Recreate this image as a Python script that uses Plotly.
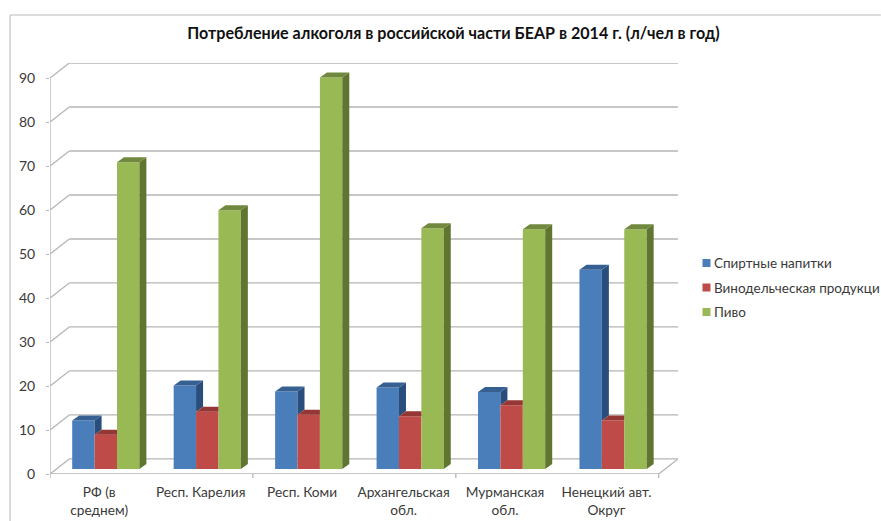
import plotly.graph_objects as go

categories = ["РФ (в<br>среднем)", "Респ. Карелия", "Респ. Коми", "Архангельская<br>обл.", "Мурманская<br>обл.", "Ненецкий авт.<br>Округ"]
series_names = ["Спиртные напитки", "Винодельческая продукци", "Пиво"]
spirits = [11, 19, 17.6, 18.5, 17.5, 45.3]
wine = [7.8, 13, 12.3, 12, 14.5, 11]
beer = [69.7, 58.8, 89, 54.7, 54.5, 54.5]
y_ticks = [0, 10, 20, 30, 40, 50, 60, 70, 80, 90]
title_text = "Потребление алкоголя в российской части БЕАР в 2014 г. (л/чел в год)"

front_colors = ["#4A7EBB", "#BE4B48", "#98B954"]
side_colors = ["#2A4E7C", "#772C2A", "#5F7530"]
top_colors = ["#376092", "#953735", "#71893F"]

FONT = "Lato, 'Noto Sans', sans-serif"
TEXT = "#3a3a3a"
GRID = "#b5b5b5"

W, H = 881, 521
L, R, T, B = 49.5, 203, 63, 47
wall_dx, wall_dy = 0.19, 3.42      # wall offset in axis units
bar_dx, bar_dy = 0.069, 1.14       # bar depth in axis units
group_shift = 0.05
bar_w = 0.2207
x0, x1 = -0.5, 5.5

fig = go.Figure()
all_series = [spirits, wine, beer]

# fronts
for k, vals in enumerate(all_series):
    fig.add_bar(x=[i + group_shift for i in range(len(vals))], y=vals, base=bar_dy,
                name=series_names[k], marker=dict(color=front_colors[k], line=dict(width=0)),
                showlegend=False)

# sides and tops, only where the next bar of the group does not hide them
for k, vals in enumerate(all_series):
    sx, sy, tx, ty = [], [], [], []
    for i, v in enumerate(vals):
        left = i + group_shift - 1.5 * bar_w + k * bar_w
        right = left + bar_w
        top = v + bar_dy
        low = (all_series[k + 1][i] if k < 2 else 0) + bar_dy
        if low < top:
            sx += [right, right + bar_dx, right + bar_dx, right, right, None]
            sy += [top, top + bar_dy, low + bar_dy, low, top, None]
            top_right = right + bar_dx
        else:
            top_right = right
        tx += [left, left + bar_dx, top_right, right, left, None]
        ty += [top, top + bar_dy, top + bar_dy, top, top, None]
    fig.add_scatter(x=sx, y=sy, mode="lines", fill="toself", fillcolor=side_colors[k],
                    line=dict(width=0), hoverinfo="skip", showlegend=False)
    fig.add_scatter(x=tx, y=ty, mode="lines", fill="toself", fillcolor=top_colors[k],
                    line=dict(width=0), hoverinfo="skip", showlegend=False)

shapes = []
def ln(xa, ya, xb, yb, xref="x", yref="y", color=GRID, width=1.3):
    shapes.append(dict(type="line", x0=xa, y0=ya, x1=xb, y1=yb, xref=xref, yref=yref,
                       layer="below", line=dict(color=color, width=width)))

for v in y_ticks:
    ln(x0, v, x0 + wall_dx, v + wall_dy)
    ln(x0 + wall_dx, v + wall_dy, x1 + wall_dx, v + wall_dy)
ln(x0, 0, x0, y_ticks[-1])
ln(x0, 0, x1, 0)
ln(x1, 0, x1 + wall_dx, wall_dy)

px = lambda p: (p - L) / (W - L - R)
py = lambda p: 1 - (p - T) / (H - T - B)

# category tick marks (every second boundary)
for b in [x0, x0 + 2, x0 + 4, x1]:
    shapes.append(dict(type="line", xref="x", yref="paper", x0=b, x1=b, y0=py(474), y1=py(478),
                       line=dict(color=GRID, width=1.3)))

# chart-area frame
ln(px(9.5), py(521), px(9.5), py(15), "paper", "paper", "#cfcfcf", 1.5)
ln(px(9.5), py(15), px(881), py(15), "paper", "paper", "#d0d0d0", 1.5)

# legend
annotations = []
for k, (name, ypx) in enumerate(zip(series_names, [263, 287.5, 312])):
    shapes.append(dict(type="rect", xref="paper", yref="paper", x0=px(702.5), x1=px(710.5),
                       y0=py(ypx + 4), y1=py(ypx - 4), fillcolor=front_colors[k],
                       line=dict(width=0)))
    annotations.append(dict(x=px(712), y=py(ypx), xref="paper", yref="paper", text=name,
                            xanchor="left", yanchor="middle", showarrow=False,
                            font=dict(family=FONT, size=13.5, color=TEXT)))

fig.update_layout(
    width=W, height=H, autosize=False,
    margin=dict(l=L, r=R, t=T, b=B, pad=0),
    paper_bgcolor="white", plot_bgcolor="white",
    barmode="group", bargap=1 - 3 * bar_w, bargroupgap=0,
    showlegend=False,
    title=dict(text=title_text, x=453.5 / W, y=1 - 33 / H, xanchor="center", yanchor="middle",
               xref="container", yref="container", automargin=False,
               font=dict(family=FONT, size=16.1, color="#111111", weight="bold")),
    shapes=shapes, annotations=annotations,
    xaxis=dict(range=[x0, x1 + wall_dx], tickmode="array", tickvals=[i - 0.015 for i in range(6)], ticktext=categories,
               showgrid=False, zeroline=False, showline=False, ticks="", tickangle=0,
               ticklabelstandoff=8, automargin=False,
               tickfont=dict(family=FONT, size=13.7, color=TEXT)),
    yaxis=dict(range=[0, 90 + wall_dy], tickmode="array", tickvals=y_ticks,
               showgrid=False, zeroline=False, showline=False, ticks="outside", ticklen=3,
               tickcolor=GRID, tickwidth=1.3, ticklabelstandoff=8, automargin=False,
               tickfont=dict(family=FONT, size=14, color=TEXT)),
)
fig.write_html("out.html", config={"displayModeBar": False},
               post_script="document.body.style.margin='0';document.body.style.overflow='hidden';")
